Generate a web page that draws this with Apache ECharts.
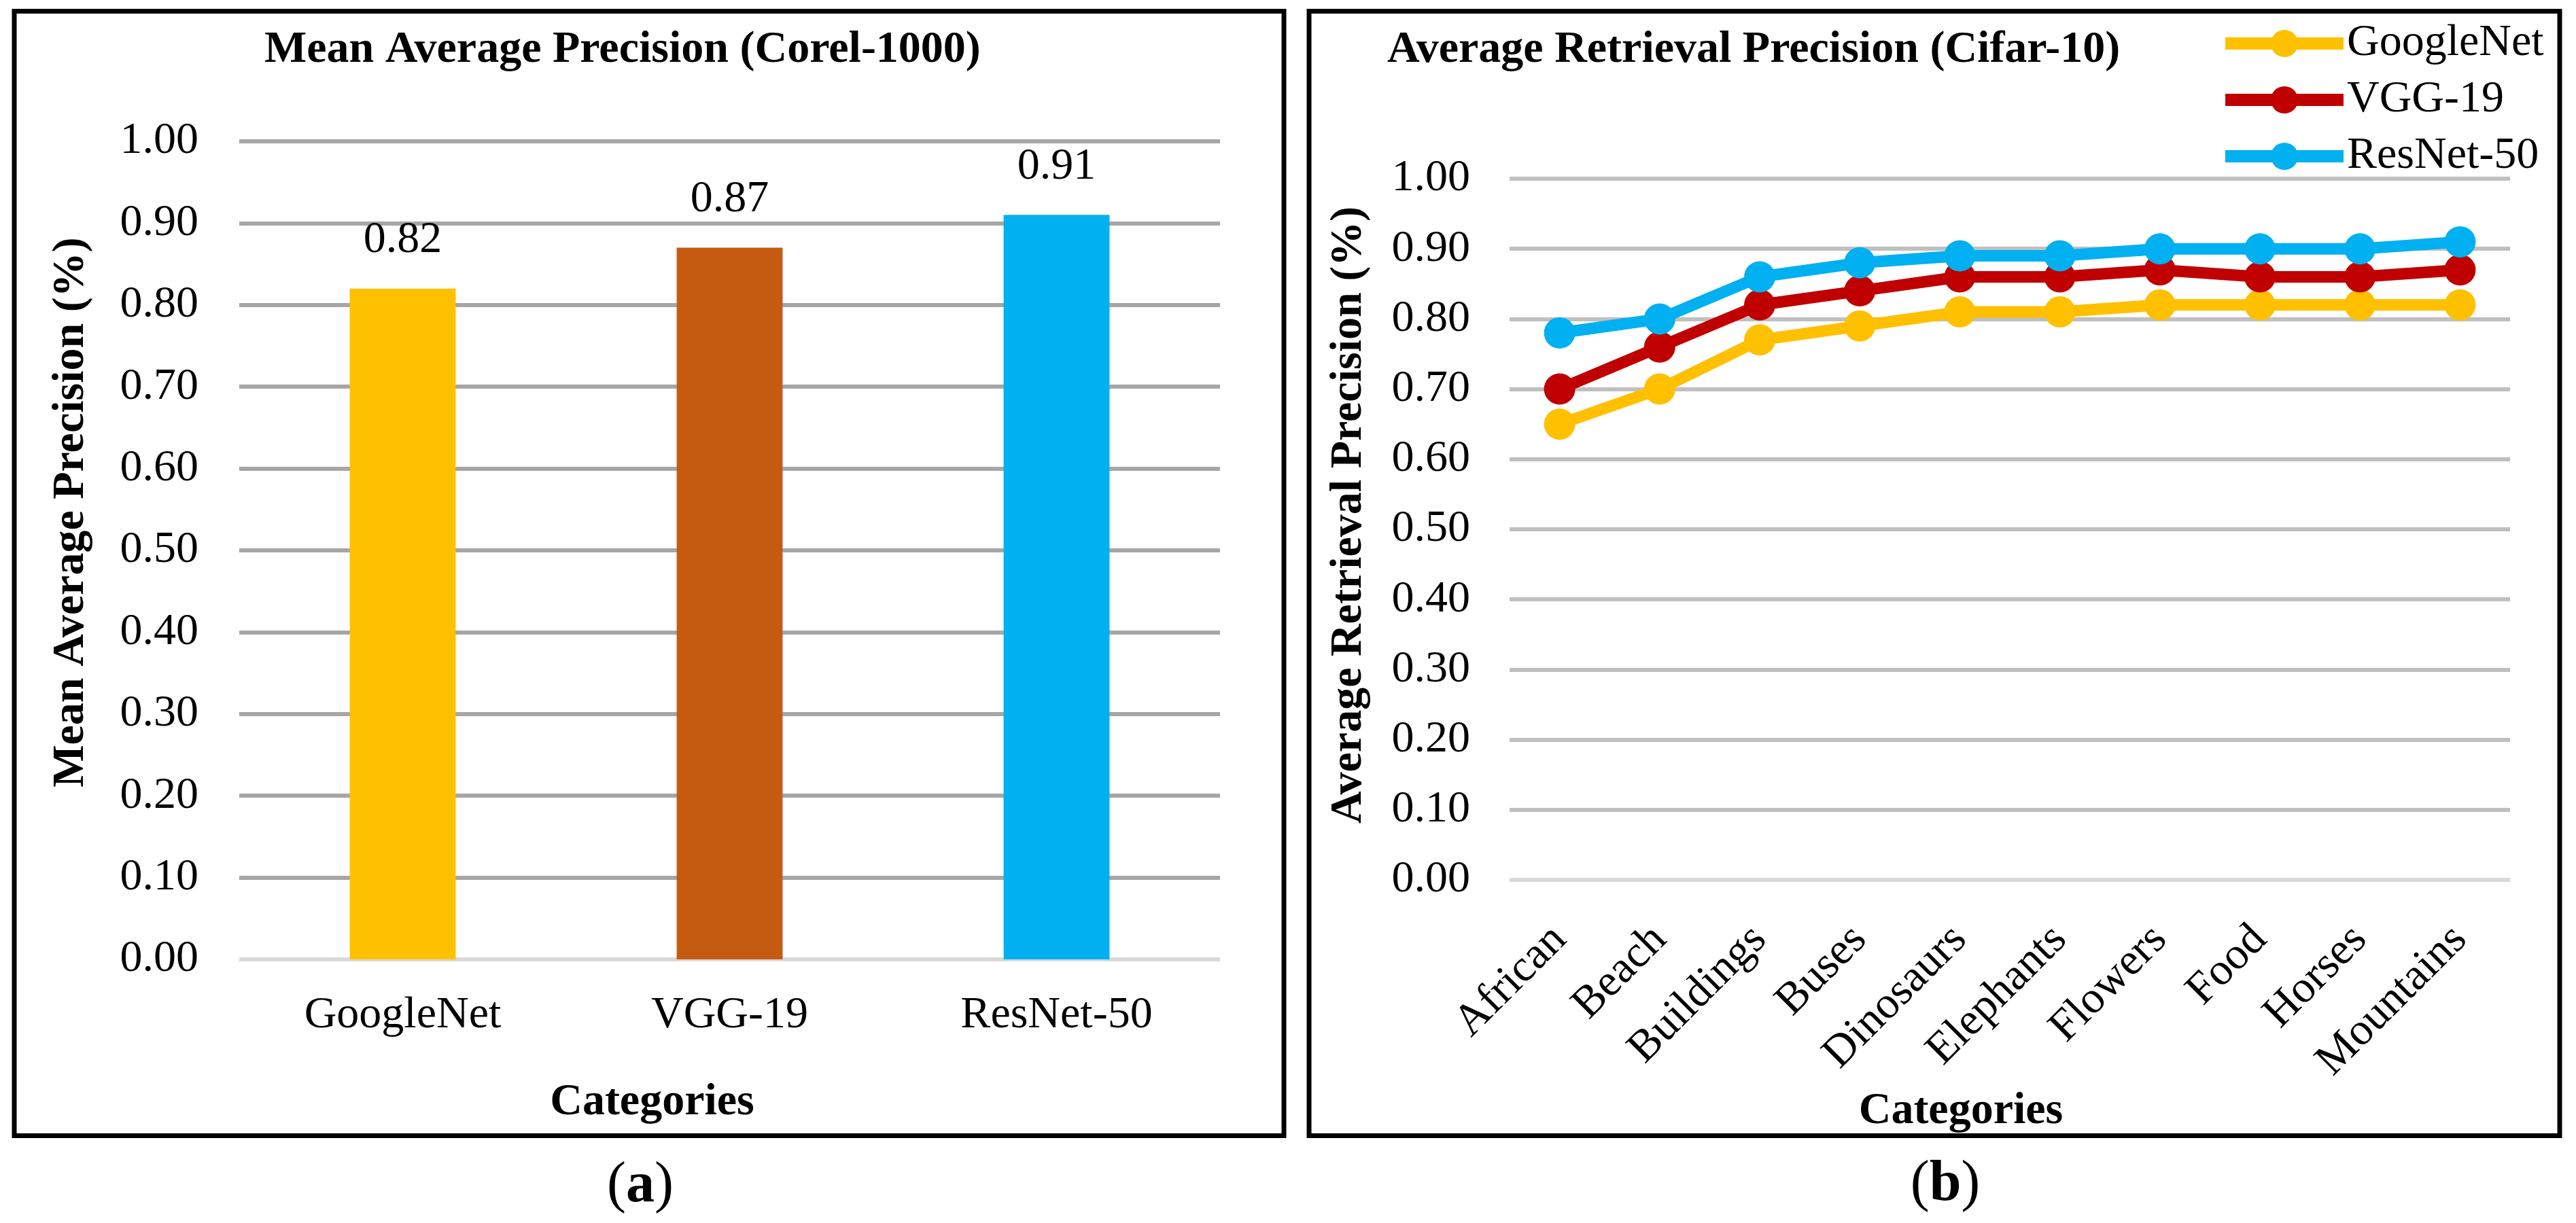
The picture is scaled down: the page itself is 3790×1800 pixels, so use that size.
<!DOCTYPE html>
<html>
<head>
<meta charset="utf-8">
<script src="https://cdn.jsdelivr.net/npm/echarts@6/dist/echarts.min.js"></script>
<style>
html,body{margin:0;padding:0;background:#fff;}
#chart{width:3790px;height:1800px;}
</style>
</head>
<body>
<div id="chart"></div>
<script>
// ---- data ----
var barCategories = ['GoogleNet', 'VGG-19', 'ResNet-50'];
var barValues = [0.82, 0.87, 0.91];
var barColors = ['#FFC000', '#C55A11', '#00B0F0'];

var lineCategories = ['African', 'Beach', 'Buildings', 'Buses', 'Dinosaurs', 'Elephants', 'Flowers', 'Food', 'Horses', 'Mountains'];
var googleNetValues = [0.65, 0.70, 0.77, 0.79, 0.81, 0.81, 0.82, 0.82, 0.82, 0.82];
var vgg19Values     = [0.70, 0.76, 0.82, 0.84, 0.86, 0.86, 0.87, 0.86, 0.86, 0.87];
var resNet50Values  = [0.78, 0.80, 0.86, 0.88, 0.89, 0.89, 0.90, 0.90, 0.90, 0.91];
var lineNames = ['GoogleNet', 'VGG-19', 'ResNet-50'];
var lineColors = ['#FFC000', '#C00000', '#00B0F0'];

var yTicks = [0, 0.1, 0.2, 0.3, 0.4, 0.5, 0.6, 0.7, 0.8, 0.9, 1.0];

// ---- style ----
var FONT = '"Liberation Serif", "Times New Roman", serif';
var FS = 66;

function splitColors(base, main) {
  return yTicks.map(function (t, i) { return i === 0 ? base : main; });
}

var chart = echarts.init(document.getElementById('chart'), null, {renderer: 'canvas'});

var option = {
  backgroundColor: '#ffffff',
  animation: false,
  title: [
    {text: 'Mean Average Precision (Corel-1000)', left: 384, top: 36,
     textStyle: {fontFamily: FONT, fontSize: FS, fontWeight: 'bold', color: '#000'}},
    {text: 'Average Retrieval Precision (Cifar-10)', left: 2036, top: 36,
     textStyle: {fontFamily: FONT, fontSize: FS, fontWeight: 'bold', color: '#000'}}
  ],
  legend: {
    orient: 'vertical',
    left: 3260,
    top: 26,
    itemWidth: 174,
    itemHeight: 50,
    itemGap: 17,
    data: lineNames,
    lineStyle: {width: 18},
    textStyle: {fontFamily: FONT, fontSize: FS, color: '#000'}
  },
  grid: [
    {left: 352, top: 208, width: 1443, height: 1204, containLabel: false},
    {left: 2221, top: 263, width: 1472, height: 1032, containLabel: false}
  ],
  xAxis: [
    {
      gridIndex: 0, type: 'category', data: barCategories,
      axisLine: {show: false}, axisTick: {show: false},
      axisLabel: {fontFamily: FONT, fontSize: FS, color: '#000', margin: 50},
      name: 'Categories', nameLocation: 'middle', nameGap: 178,
      nameTextStyle: {fontFamily: FONT, fontSize: FS, fontWeight: 'bold', color: '#000', padding: [0, 228, 0, 0]}
    },
    {
      gridIndex: 1, type: 'category', data: lineCategories, boundaryGap: true,
      axisLine: {show: false}, axisTick: {show: false},
      axisLabel: {fontFamily: FONT, fontSize: FS, color: '#000', rotate: 45, margin: 78, interval: 0},
      name: 'Categories', nameLocation: 'middle', nameGap: 288,
      nameTextStyle: {fontFamily: FONT, fontSize: FS, fontWeight: 'bold', color: '#000', padding: [0, 144, 0, 0]}
    }
  ],
  yAxis: [
    {
      gridIndex: 0, type: 'value', min: 0, max: 1, interval: 0.1,
      axisLine: {show: false}, axisTick: {show: false},
      axisLabel: {fontFamily: FONT, fontSize: FS, color: '#000', margin: 60,
                  formatter: function (v) { return v.toFixed(2); }},
      splitLine: {show: true, lineStyle: {color: splitColors('#d9d9d9', '#a6a6a6'), width: 6}},
      name: 'Mean Average Precision (%)', nameLocation: 'middle', nameGap: 214,
      nameTextStyle: {fontFamily: FONT, fontSize: FS, fontWeight: 'bold', color: '#000', padding: [0, 0, 0, 112]}
    },
    {
      gridIndex: 1, type: 'value', min: 0, max: 1, interval: 0.1,
      axisLine: {show: false}, axisTick: {show: false},
      axisLabel: {fontFamily: FONT, fontSize: FS, color: '#000', margin: 58,
                  formatter: function (v) { return v.toFixed(2); }},
      splitLine: {show: true, lineStyle: {color: splitColors('#d9d9d9', '#bfbfbf'), width: 6}},
      name: 'Average Retrieval Precision (%)', nameLocation: 'middle', nameGap: 203,
      nameTextStyle: {fontFamily: FONT, fontSize: FS, fontWeight: 'bold', color: '#000', padding: [0, 0, 0, 42]}
    }
  ],
  series: [
    {
      type: 'bar', xAxisIndex: 0, yAxisIndex: 0, barWidth: '32.4%',
      data: barValues.map(function (v, i) { return {value: v, itemStyle: {color: barColors[i]}}; }),
      label: {show: true, position: 'top', distance: 38, fontFamily: FONT, fontSize: FS, color: '#000',
              lineHeight: FS, formatter: function (p) { return p.value.toFixed(2); }}
    }
  ].concat([googleNetValues, vgg19Values, resNet50Values].map(function (vals, i) {
    return {
      type: 'line', name: lineNames[i], xAxisIndex: 1, yAxisIndex: 1,
      data: vals, symbol: 'circle', symbolSize: 46,
      lineStyle: {color: lineColors[i], width: 17},
      itemStyle: {color: lineColors[i]},
      z: 2 + i
    };
  })),
  graphic: [
    {type: 'rect', shape: {x: 21, y: 16.5, width: 1868, height: 1655},
     style: {fill: 'none', stroke: '#000', lineWidth: 7}, z: 100},
    {type: 'rect', shape: {x: 1926, y: 16.5, width: 1840, height: 1655},
     style: {fill: 'none', stroke: '#000', lineWidth: 7}, z: 100},
    {type: 'text', x: 942, y: 1746, z: 100,
     style: {text: '{n|(}{b|a}{n|)}', align: 'center', verticalAlign: 'middle',
             rich: {n: {fontFamily: FONT, fontSize: 84, color: '#000'},
                    b: {fontFamily: FONT, fontSize: 84, fontWeight: 'bold', color: '#000'}}}},
    {type: 'text', x: 2862, y: 1744, z: 100,
     style: {text: '{n|(}{b|b}{n|)}', align: 'center', verticalAlign: 'middle',
             rich: {n: {fontFamily: FONT, fontSize: 84, color: '#000'},
                    b: {fontFamily: FONT, fontSize: 84, fontWeight: 'bold', color: '#000'}}}}
  ]
};

chart.setOption(option);
</script>
</body>
</html>
